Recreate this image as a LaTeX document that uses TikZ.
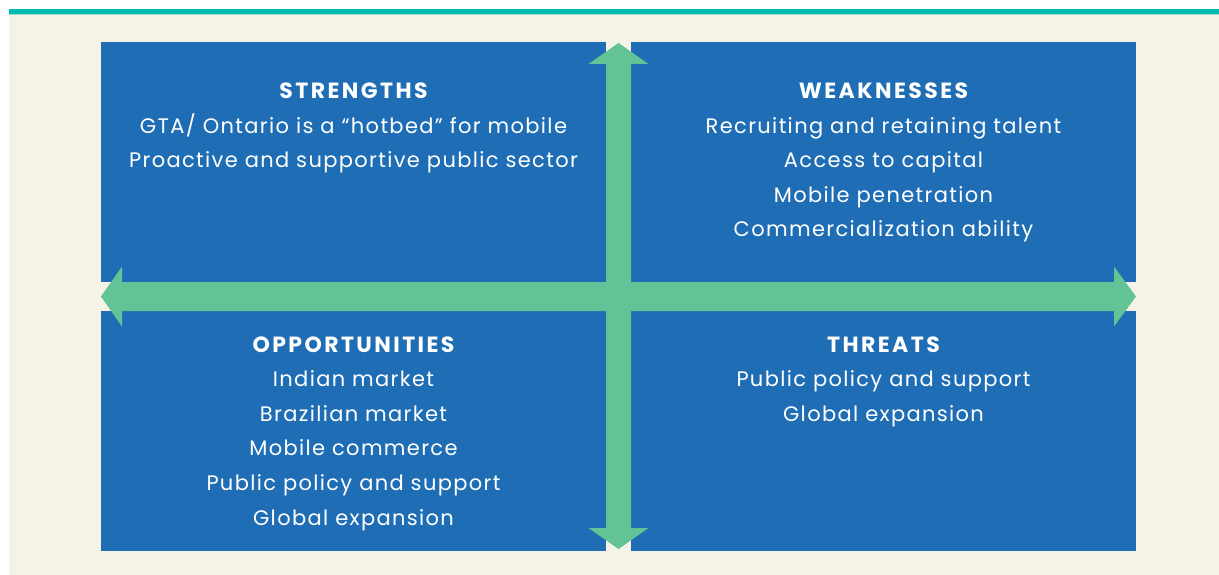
\documentclass[tikz,border=0pt]{standalone}
\usepackage{fontspec}
\setmainfont{Poppins}
\newfontfamily\bodyfont[LetterSpace=6.4]{Poppins}
\newfontfamily\titlefont[LetterSpace=11]{Poppins}
\definecolor{qblue}{HTML}{1F6EB5}
\definecolor{qgreen}{HTML}{63C396}
\definecolor{qcream}{HTML}{F5F3E7}
\definecolor{qteal}{HTML}{00BAB4}
\definecolor{qtealL}{HTML}{9ADBD3}
\begin{document}
\begin{tikzpicture}[x=1pt,y=-1pt,
  quad/.style={fill=qblue,draw=none},
  arr/.style={fill=qgreen,draw=none},
  ttl/.style={anchor=base,text=white,font=\titlefont\fontsize{22}{24}\selectfont\bfseries,inner sep=0pt},
  txt/.style={anchor=base,text=white,font=\bodyfont\fontsize{21}{24}\selectfont,inner sep=0pt}]
\useasboundingbox (0,0) rectangle (1219,575);
\fill[white] (0,0) rectangle (1219,575);
\fill[qcream] (9,15) rectangle (1219,575);
\fill[qteal] (9,9) rectangle (1219,14);
\fill[qtealL] (9,14) rectangle (1219,15.2);
% quadrants
\fill[quad] (101,42) rectangle (606,282);
\fill[quad] (631,42) rectangle (1136,282);
\fill[quad] (101,311) rectangle (606,551);
\fill[quad] (631,311) rectangle (1136,551);
% arrows
\fill[arr] (101,296.5) -- (122,266.5) -- (122,282) -- (1114,282) -- (1114,266.5) -- (1136,296.5) -- (1114,326.5) -- (1114,311) -- (122,311) -- (122,326.5) -- cycle;
\fill[arr] (618.5,43) -- (648.5,64) -- (631,64) -- (631,528) -- (648.5,528) -- (618.5,549) -- (588.5,528) -- (606,528) -- (606,64) -- (588.5,64) -- cycle;
% texts
\node[ttl] (s0) at (353.5,98.5) {STRENGTHS};
\foreach \t [count=\i] in {GTA/ Ontario is a “hotbed” for mobile, Proactive and supportive public sector}
  \node[txt] (s\i) at (353.5,98.5+34.6*\i) {\t};
\node[ttl] (w0) at (883.5,98.5) {WEAKNESSES};
\foreach \t [count=\i] in {Recruiting and retaining talent, Access to capital, Mobile penetration, Commercialization ability}
  \node[txt] (w\i) at (883.5,98.5+34.6*\i) {\t};
\node[ttl] (o0) at (353.5,352) {OPPORTUNITIES};
\foreach \t [count=\i] in {Indian market, Brazilian market, Mobile commerce, Public policy and support, Global expansion}
  \node[txt] (o\i) at (353.5,352+34.6*\i) {\t};
\node[ttl] (t0) at (883.5,352) {THREATS};
\foreach \t [count=\i] in {Public policy and support, Global expansion}
  \node[txt] (t\i) at (883.5,352+34.6*\i) {\t};
\end{tikzpicture}
\end{document}
